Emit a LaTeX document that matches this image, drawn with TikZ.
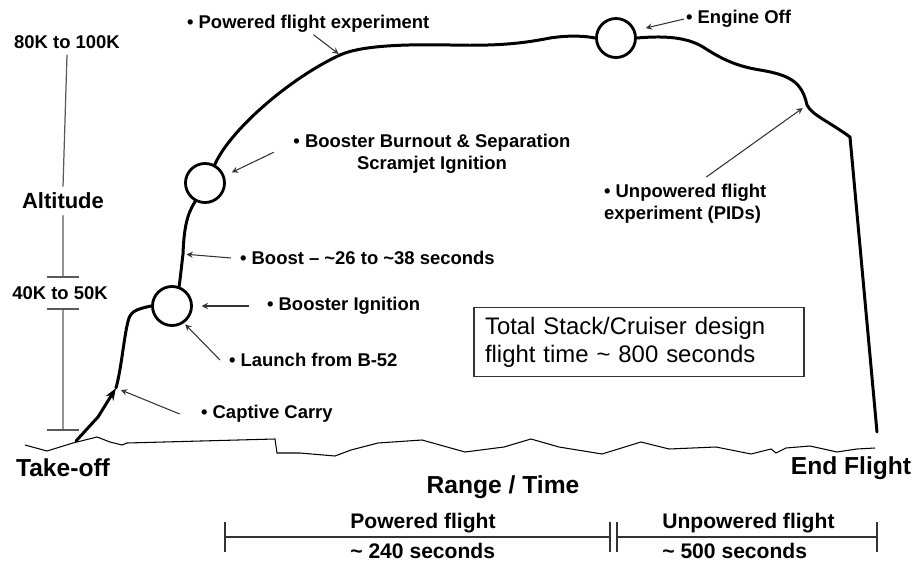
\documentclass[tikz,border=0pt]{standalone}
\usepackage{fontspec}
\setmainfont{Liberation Sans}
\usepackage{tikz}
\usetikzlibrary{arrows.meta}
\newcommand{\tld}{\textasciitilde}
\newcommand{\lblFont}{\bfseries\fontsize{10.5}{12.5}\selectfont}
\newcommand{\axisFont}{\bfseries\fontsize{14}{16}\selectfont}
\newcommand{\spanFont}{\bfseries\fontsize{12}{14}\selectfont}
\newcommand{\boxFont}{\fontsize{13.6}{15.8}\selectfont}

\begin{document}
\begin{tikzpicture}[x=0.02cm,y=-0.02cm,
  lbl/.style={font=\lblFont,inner sep=1pt,anchor=west},
  stage/.style={circle,draw,line width=1.6pt,minimum size=0.78cm,inner sep=0pt},
  traj/.style={line width=1.7pt,line join=round,line cap=round},
  call/.style={color=black!80,line width=0.6pt,-stealth},
  scaleline/.style={draw=black!65,line width=0.7pt},
  spanline/.style={draw=black!80,line width=0.6pt}]
 \useasboundingbox (0,0) rectangle (914,561);

 \node[stage] (ign) at (172,306) {};
 \node[stage] (sep) at (205,183) {};
 \node[stage] (eoff) at (616,38) {};

 \coordinate (tko) at (76,441);
 \coordinate (cca) at (116,388);
 \coordinate (bst) at (183,254);
 \coordinate (pf) at (340,55);
 \coordinate (dip) at (807,105);
 \coordinate (tend) at (877,432);

 \draw[traj,-{Stealth[length=7pt,width=5pt]}] (tko) -- (98,417) -- (cca);
 \draw[traj] (cca) .. controls (122,366) and (124,334) .. (129,318)
   .. controls (132,311) and (137,309) .. (ign.west);
 \draw[traj] (ign.70) .. controls (181,272) and (182,262) .. (bst)
   .. controls (184,228) and (187,214) .. (sep.-118);
 \draw[traj] (sep.62) .. controls (230,130) and (290,78) .. (pf)
   .. controls (360,46) and (400,44) .. (450,45)
   .. controls (495,46) and (520,44) .. (550,38)
   .. controls (570,35) and (585,36) .. (eoff.west);
 \draw[traj] (eoff.east) .. controls (660,36) and (685,36) .. (703,47)
   .. controls (720,58) and (735,66) .. (760,70)
   .. controls (790,75) and (802,82) .. (dip)
   .. controls (812,115) and (828,121) .. (850,137) -- (tend);

 \draw[line width=0.6pt] (25,445) -- (47,451) -- (73,443) -- (97,437) -- (110,442)
   -- (122,445) -- (127,443) -- (275,439) -- (277,453) -- (300,453) -- (335,456)
   -- (351,450) -- (378,443) -- (422,440) -- (465,452) -- (504,447) -- (531,439)
   -- (559,447) -- (602,454) -- (641,442) -- (669,449) -- (716,447) -- (751,454)
   -- (771,449) -- (776,453) -- (786,448) -- (810,446) -- (837,452) -- (857,449)
   -- (875,448);

 \node[lbl] (pfe) at (185,24) {• Powered flight experiment};
 \node[lbl] (eo) at (684,19) {• Engine Off};
 \node[lbl,align=center,anchor=center] (bbs) at (432,154) {• Booster Burnout \& Separation\\Scramjet Ignition};
 \node[lbl] (boost) at (238,258) {• Boost – \tld26 to \tld38 seconds};
 \node[lbl] (bi) at (265,306) {• Booster Ignition};
 \node[lbl] (lb) at (227,360) {• Launch from B-52};
 \node[lbl] (cc) at (199,414) {• Captive Carry};
 \node[lbl,align=left] (upf) at (602,204) {• Unpowered flight\\experiment (PIDs)};

 \path[call]
  ([xshift=3pt]pfe.south) edge[shorten >=1pt] (pf)
  (eo.west) edge[shorten >=6pt] (eoff.21)
  ([xshift=12pt,yshift=3pt]upf.north) edge[shorten >=3pt] (dip)
  ([xshift=-10pt,yshift=1pt]bbs.west) edge[shorten >=4.5pt] (sep.20)
  ([xshift=-4pt]boost.west) edge[shorten >=2pt] (bst)
  ([xshift=-9pt]bi.west) edge[shorten >=5pt] (ign.east)
  ([xshift=-4pt]lb.west) edge[shorten >=1pt] (ign.-55)
  ([xshift=-11pt]cc.west) edge[shorten >=3pt] (cca);

 \node[font=\lblFont] (a100) at (67,42) {80K to 100K};
 \node[font=\bfseries\fontsize{12.5}{14}\selectfont] (alt) at (63,201) {Altitude};
 \node[font=\lblFont] (a40) at (60,293) {40K to 50K};
 \coordinate (top40) at (63,277);
 \coordinate (bot40) at (63,309);
 \coordinate (gnd) at (63,430);
 \draw[scaleline] (a100.south) -- (alt.north) (alt.south) -- (top40) (bot40) -- (gnd);
 \foreach \t in {top40,bot40,gnd}
  \draw[scaleline] ([xshift=-9pt]\t) -- ([xshift=9pt]\t);

 \node[draw=black!80,line width=0.7pt,font=\boxFont,align=left,text width=6.16cm,
   minimum height=1.38cm,inner xsep=0.22cm] (tot) at (639,342)
   {Total Stack/Cruiser design\\flight time \tld\ 800 seconds};

 \node[font=\axisFont] (tk) at (63,468) {Take-off};
 \node[font=\axisFont] (ef) at (851,468) {End Flight};
 \node[font=\axisFont] (rt) at (503,487) {Range / Time};

 \coordinate (p0) at (225,537);
 \coordinate (p1) at (610,537);
 \coordinate (u0) at (617,537);
 \coordinate (u1) at (877,537);
 \draw[spanline] (p0) -- (p1) (u0) -- (u1);
 \foreach \c in {p0,p1,u0,u1}
  \draw[spanline] ([yshift=8.5pt]\c) -- ([yshift=-8.5pt]\c);
 \node[font=\spanFont,inner sep=0pt,anchor=west] (pw) at (350,523) {Powered flight};
 \node[font=\spanFont,inner sep=0pt,anchor=west] (pws) at (350,551) {\tld\ 240 seconds};
 \node[font=\spanFont,inner sep=0pt,anchor=west] (uw) at (662,523) {Unpowered flight};
 \node[font=\spanFont,inner sep=0pt,anchor=west] (uws) at (662,551) {\tld\ 500 seconds};
\end{tikzpicture}
\end{document}
